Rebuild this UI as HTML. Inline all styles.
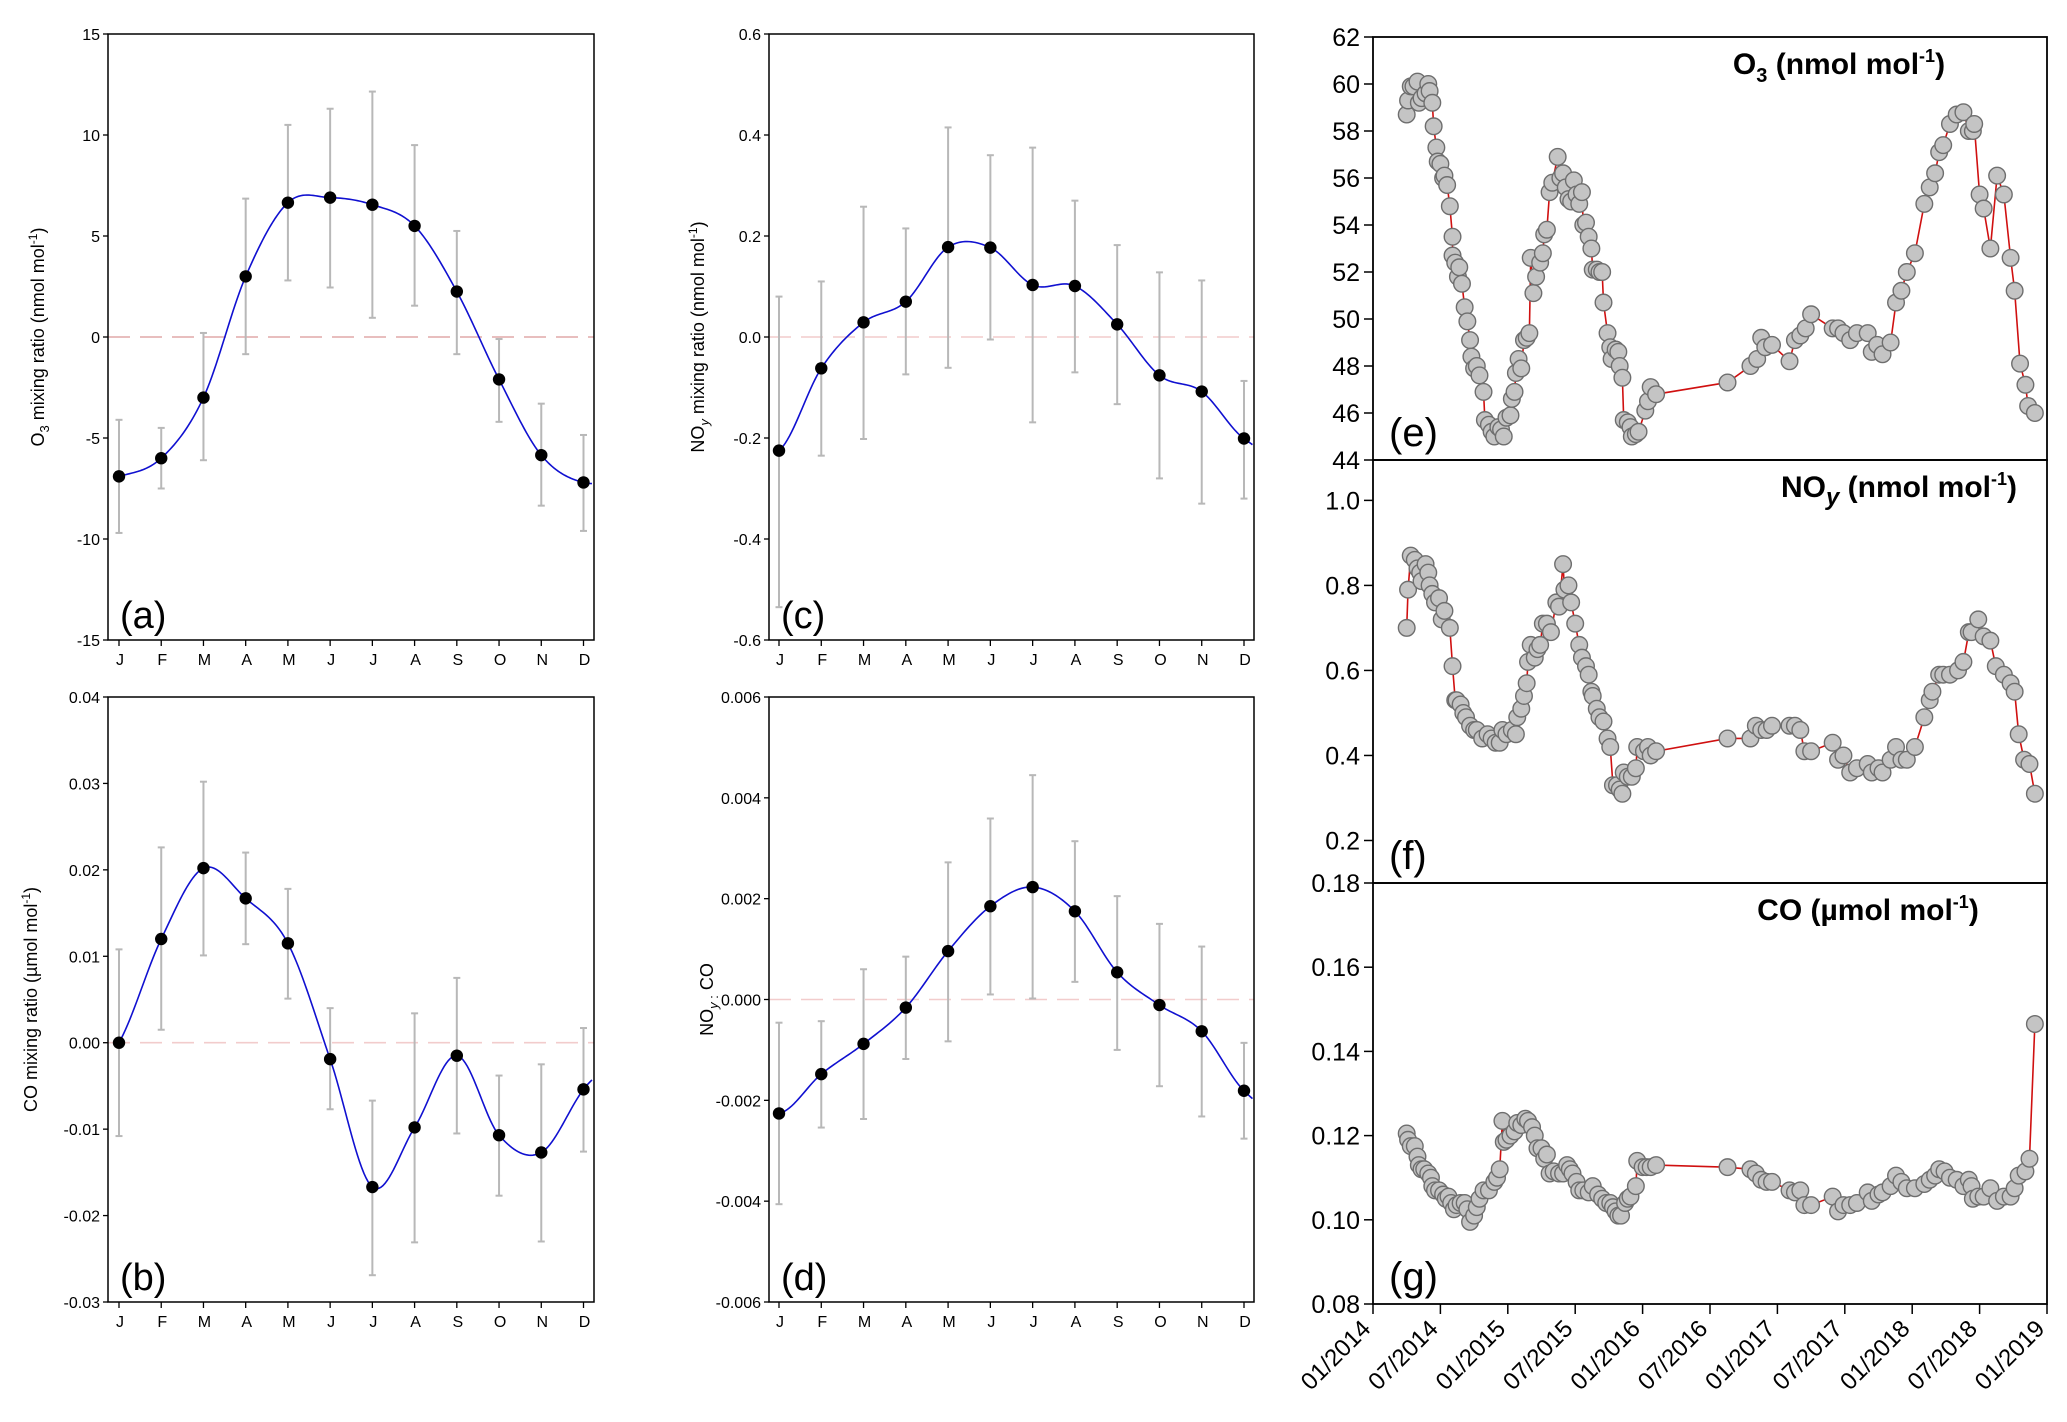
<!DOCTYPE html>
<html><head><meta charset="utf-8">
<style>
html,body{margin:0;padding:0;background:#fff;}
svg{display:block;font-family:"Liberation Sans",Arial,sans-serif;}
</style></head>
<body>
<svg id="fig" width="2067" height="1422" viewBox="0 0 2067 1422" xmlns="http://www.w3.org/2000/svg"></svg>
<script>
// ---------- monthly panel data ----------
const months = ["J","F","M","A","M","J","J","A","S","O","N","D"];
const o3Mean  = [-6.9,-6.0,-3.0,3.0,6.65,6.9,6.55,5.5,2.25,-2.1,-5.85,-7.2];
const o3Upper = [-4.1,-4.5,0.2,6.85,10.5,11.3,12.15,9.5,5.25,-0.1,-3.3,-4.85];
const o3Lower = [-9.7,-7.5,-6.1,-0.85,2.8,2.45,0.95,1.55,-0.85,-4.2,-8.35,-9.6];
const coMean  = [0,0.012,0.0202,0.0167,0.0115,-0.0019,-0.0167,-0.0098,-0.0015,-0.0107,-0.0127,-0.0054];
const coUpper = [0.0108,0.0226,0.0302,0.022,0.0178,0.004,-0.0067,0.0034,0.0075,-0.0038,-0.0025,0.0017];
const coLower = [-0.0108,0.0015,0.0101,0.0114,0.0051,-0.0077,-0.0269,-0.0231,-0.0105,-0.0177,-0.023,-0.0126];
const noyMean  = [-0.225,-0.062,0.029,0.07,0.178,0.177,0.103,0.101,0.025,-0.076,-0.108,-0.201];
const noyUpper = [0.08,0.11,0.258,0.215,0.415,0.36,0.375,0.27,0.182,0.128,0.112,-0.087];
const noyLower = [-0.535,-0.235,-0.202,-0.074,-0.061,-0.005,-0.169,-0.07,-0.133,-0.28,-0.33,-0.32];
const ratioMean  = [-0.00226,-0.00148,-0.00088,-0.00016,0.00096,0.00185,0.00223,0.00175,0.00054,-0.00011,-0.00063,-0.00181];
const ratioUpper = [-0.00046,-0.00043,0.0006,0.00085,0.00272,0.00359,0.00445,0.00314,0.00205,0.0015,0.00105,-0.00086];
const ratioLower = [-0.00406,-0.00254,-0.00237,-0.00118,-0.00083,0.0001,0.00002,0.00035,-0.001,-0.00172,-0.00232,-0.00276];
const ticksA = [-15,-10,-5,0,5,10,15];
const ticksB = ["-0.03","-0.02","-0.01","0.00","0.01","0.02","0.03","0.04"];
const ticksC = ["-0.6","-0.4","-0.2","0.0","0.2","0.4","0.6"];
const ticksD = ["-0.006","-0.004","-0.002","0.000","0.002","0.004","0.006"];

// ---------- time series data (decimal years) ----------
const o3Dates = [2014.25,2014.26,2014.28,2014.30,2014.33,2014.34,2014.36,2014.39,2014.41,2014.42,2014.44,2014.45,2014.47,2014.48,2014.50,2014.52,2014.53,2014.55,2014.57,2014.59,2014.59,2014.61,2014.63,2014.64,2014.66,2014.68,2014.70,2014.72,2014.73,2014.75,2014.77,2014.79,2014.82,2014.83,2014.86,2014.88,2014.90,2014.93,2014.95,2014.97,2014.99,2015.02,2015.03,2015.05,2015.06,2015.08,2015.10,2015.12,2015.14,2015.16,2015.17,2015.19,2015.21,2015.24,2015.26,2015.27,2015.29,2015.31,2015.33,2015.37,2015.39,2015.41,2015.43,2015.45,2015.47,2015.49,2015.51,2015.53,2015.55,2015.56,2015.58,2015.60,2015.62,2015.63,2015.66,2015.68,2015.70,2015.71,2015.74,2015.76,2015.77,2015.80,2015.82,2015.83,2015.85,2015.86,2015.89,2015.91,2015.92,2015.95,2015.97,2016.02,2016.04,2016.06,2016.10,2016.63,2016.80,2016.85,2016.88,2016.91,2016.96,2017.09,2017.13,2017.17,2017.21,2017.25,2017.41,2017.45,2017.49,2017.54,2017.59,2017.67,2017.70,2017.74,2017.78,2017.84,2017.88,2017.92,2017.96,2018.02,2018.09,2018.13,2018.17,2018.20,2018.23,2018.28,2018.33,2018.38,2018.42,2018.45,2018.46,2018.50,2018.53,2018.58,2018.63,2018.68,2018.73,2018.76,2018.80,2018.84,2018.86,2018.91];
const o3Values = [58.7,59.3,59.9,59.9,60.1,59.2,59.4,59.6,60.0,59.7,59.2,58.2,57.3,56.7,56.6,56.0,56.1,55.7,54.8,53.5,52.7,52.4,51.8,52.2,51.5,50.5,49.9,49.1,48.4,47.9,48.0,47.6,46.9,45.7,45.5,45.2,45.0,45.4,45.3,45.0,45.8,45.9,46.6,46.9,47.7,48.3,47.9,49.1,49.2,49.4,52.6,51.1,51.8,52.4,52.8,53.6,53.8,55.4,55.8,56.9,56.0,56.2,55.6,55.1,55.0,55.9,55.3,54.9,55.4,54.0,54.1,53.5,53.0,52.1,52.1,52.0,52.0,50.7,49.4,48.8,48.3,48.7,48.6,48.0,47.5,45.7,45.6,45.4,45.0,45.1,45.2,46.1,46.5,47.1,46.8,47.3,48.0,48.3,49.2,48.8,48.9,48.2,49.1,49.3,49.6,50.2,49.6,49.6,49.4,49.1,49.4,49.4,48.6,48.9,48.5,49.0,50.7,51.2,52.0,52.8,54.9,55.6,56.2,57.1,57.4,58.3,58.7,58.8,58.0,58.0,58.3,55.3,54.7,53.0,56.1,55.3,52.6,51.2,48.1,47.2,46.3,46.0];
const noyDates = [2014.25,2014.26,2014.28,2014.31,2014.33,2014.35,2014.36,2014.39,2014.41,2014.42,2014.44,2014.46,2014.49,2014.51,2014.53,2014.57,2014.59,2014.61,2014.62,2014.65,2014.67,2014.69,2014.72,2014.75,2014.77,2014.81,2014.85,2014.88,2014.91,2014.94,2014.96,2014.99,2015.03,2015.06,2015.07,2015.10,2015.12,2015.14,2015.15,2015.17,2015.20,2015.22,2015.24,2015.26,2015.29,2015.32,2015.36,2015.38,2015.41,2015.42,2015.45,2015.47,2015.50,2015.53,2015.55,2015.58,2015.60,2015.62,2015.63,2015.66,2015.68,2015.71,2015.74,2015.76,2015.78,2015.81,2015.83,2015.85,2015.86,2015.89,2015.92,2015.95,2015.96,2016.01,2016.04,2016.06,2016.10,2016.63,2016.80,2016.84,2016.88,2016.92,2016.96,2017.09,2017.13,2017.17,2017.20,2017.25,2017.41,2017.45,2017.49,2017.54,2017.59,2017.67,2017.70,2017.75,2017.78,2017.84,2017.88,2017.92,2017.96,2018.02,2018.09,2018.13,2018.15,2018.20,2018.23,2018.28,2018.34,2018.38,2018.42,2018.44,2018.49,2018.53,2018.58,2018.62,2018.68,2018.73,2018.76,2018.79,2018.83,2018.87,2018.91];
const noyValues = [0.70,0.79,0.87,0.86,0.84,0.83,0.81,0.85,0.83,0.80,0.78,0.76,0.77,0.72,0.74,0.70,0.61,0.53,0.53,0.52,0.50,0.49,0.47,0.46,0.46,0.44,0.45,0.44,0.43,0.43,0.46,0.45,0.46,0.45,0.49,0.51,0.54,0.57,0.62,0.66,0.63,0.65,0.66,0.71,0.71,0.69,0.76,0.75,0.85,0.79,0.80,0.76,0.71,0.66,0.63,0.61,0.59,0.55,0.54,0.51,0.49,0.48,0.44,0.42,0.33,0.33,0.32,0.31,0.36,0.35,0.35,0.37,0.42,0.41,0.42,0.40,0.41,0.44,0.44,0.47,0.46,0.46,0.47,0.47,0.47,0.46,0.41,0.41,0.43,0.39,0.40,0.36,0.37,0.38,0.36,0.37,0.36,0.39,0.42,0.39,0.39,0.42,0.49,0.53,0.55,0.59,0.59,0.59,0.60,0.62,0.69,0.69,0.72,0.68,0.67,0.61,0.59,0.57,0.55,0.45,0.39,0.38,0.31];
const coDates = [2014.25,2014.26,2014.28,2014.31,2014.33,2014.34,2014.36,2014.38,2014.41,2014.43,2014.44,2014.46,2014.49,2014.52,2014.54,2014.56,2014.58,2014.60,2014.62,2014.65,2014.68,2014.70,2014.72,2014.75,2014.77,2014.79,2014.82,2014.86,2014.90,2014.92,2014.94,2014.96,2014.97,2014.99,2015.02,2015.05,2015.07,2015.10,2015.13,2015.15,2015.18,2015.20,2015.22,2015.25,2015.27,2015.29,2015.31,2015.34,2015.38,2015.41,2015.44,2015.46,2015.48,2015.51,2015.53,2015.56,2015.60,2015.63,2015.67,2015.70,2015.73,2015.76,2015.78,2015.80,2015.82,2015.84,2015.87,2015.89,2015.91,2015.95,2015.96,2016.00,2016.03,2016.06,2016.10,2016.63,2016.80,2016.84,2016.88,2016.92,2016.96,2017.09,2017.13,2017.17,2017.20,2017.25,2017.41,2017.45,2017.49,2017.54,2017.59,2017.67,2017.70,2017.75,2017.78,2017.84,2017.88,2017.92,2017.96,2018.02,2018.09,2018.13,2018.17,2018.20,2018.24,2018.28,2018.33,2018.38,2018.42,2018.44,2018.45,2018.49,2018.53,2018.58,2018.63,2018.68,2018.73,2018.76,2018.79,2018.84,2018.87,2018.91];
const coValues = [0.1205,0.119,0.1175,0.1175,0.115,0.113,0.112,0.112,0.111,0.110,0.108,0.107,0.107,0.106,0.105,0.1055,0.104,0.1025,0.1035,0.104,0.104,0.1025,0.0995,0.101,0.103,0.105,0.107,0.107,0.109,0.110,0.112,0.1235,0.1185,0.119,0.120,0.121,0.123,0.1225,0.124,0.1235,0.122,0.120,0.117,0.117,0.1145,0.1155,0.111,0.1115,0.111,0.111,0.113,0.112,0.111,0.109,0.107,0.107,0.1065,0.108,0.106,0.105,0.104,0.104,0.103,0.102,0.101,0.101,0.104,0.105,0.1055,0.108,0.114,0.1125,0.1125,0.1125,0.113,0.1125,0.112,0.111,0.1095,0.109,0.109,0.107,0.1065,0.107,0.1035,0.1035,0.1055,0.102,0.1035,0.1035,0.104,0.1065,0.1045,0.106,0.1065,0.108,0.1105,0.109,0.1075,0.1075,0.1085,0.1095,0.1105,0.112,0.1115,0.110,0.1095,0.108,0.1095,0.108,0.105,0.1055,0.1055,0.1075,0.1045,0.1055,0.1055,0.1075,0.1105,0.1115,0.1145,0.1465];
const dateTickLabels = ["01/2014","07/2014","01/2015","07/2015","01/2016","07/2016","01/2017","07/2017","01/2018","07/2018","01/2019"];
const ticksE = [44,46,48,50,52,54,56,58,60,62];
const ticksF = ["0.2","0.4","0.6","0.8","1.0"];
const ticksG = ["0.08","0.10","0.12","0.14","0.16","0.18"];

const NS = "http://www.w3.org/2000/svg";
const svg = document.getElementById('fig');
function mk(tag, attrs, parent, text){
  const e = document.createElementNS(NS, tag);
  for (const k in attrs) e.setAttribute(k, attrs[k]);
  if (text !== undefined) e.textContent = text;
  (parent || svg).appendChild(e);
  return e;
}
function lin(d0,d1,r0,r1){ return v => r0 + (v-d0)*(r1-r0)/(d1-d0); }

// ---------- monthly panel ----------
function monthlyPanel(o){
  const g = mk('g', {});
  
  
  const L=o.x0, R=o.x1, T=o.y0, B=o.y1;
  const y = lin(o.ymin, o.ymax, B, T);
  const x = lin(0, 11, o.xJ, o.xD);
  const z = mk('line', {x1:L, x2:R, y1:y(0), y2:y(0), stroke:o.zeroColor, 'stroke-width':1.6, 'stroke-dasharray':'22,10'}, g);
  
  
  for (let i=0;i<12;i++){
    const eb = mk('g', {stroke:'#b8b8b8', 'stroke-width':2}, g);
    
    
    const xi = x(i);
    mk('line', {x1:xi, x2:xi, y1:y(o.upper[i]), y2:y(o.lower[i])}, eb);
    mk('line', {x1:xi-3.5, x2:xi+3.5, y1:y(o.upper[i]), y2:y(o.upper[i])}, eb);
    mk('line', {x1:xi-3.5, x2:xi+3.5, y1:y(o.lower[i]), y2:y(o.lower[i])}, eb);
  }
  const m = o.mean, n = m.length;
  const P = k => m[((k%n)+n)%n];
  let d = '';
  for (let i=0;i<n;i++){
    const p0=P(i-1), p1=P(i), p2=P(i+1), p3=P(i+2);
    for (let s=0;s<=20;s++){
      const t=s/20, t2=t*t, t3=t2*t;
      const v = 0.5*((2*p1)+(-p0+p2)*t+(2*p0-5*p1+4*p2-p3)*t2+(-p0+3*p1-3*p2+p3)*t3);
      const xx = x(i+t);
      if (xx > R) break;
      d += (d ? 'L' : 'M') + xx.toFixed(2) + ',' + y(v).toFixed(2);
    }
  }
  const c = mk('path', {d:d, fill:'none', stroke:'#1010d0', 'stroke-width':1.6}, g);
  
  
  for (let i=0;i<12;i++){
    const pt = mk('circle', {cx:x(i), cy:y(m[i]), r:6.2, fill:'#000'}, g);
    
    
  }
  const fr = mk('rect', {x:L, y:T, width:R-L, height:B-T, fill:'none', stroke:'#000', 'stroke-width':1.5}, g);
  
  
  o.ticks.forEach(t => {
    const v = parseFloat(t), yy = y(v);
    mk('line', {x1:L-5, x2:L, y1:yy, y2:yy, stroke:'#000', 'stroke-width':1.3}, g);
    const tl = mk('text', {x:L-8, y:yy+6, 'font-size':16, 'text-anchor':'end'}, g, String(t));
    
    
  });
  months.forEach((mo,i) => {
    const xi = x(i);
    mk('line', {x1:xi, x2:xi, y1:B, y2:B+6, stroke:'#000', 'stroke-width':1.3}, g);
    const tl = mk('text', {x:xi+1, y:B+25, 'font-size':16, 'text-anchor':'middle'}, g, mo);
    
    
  });
  const yt = mk('text', {transform:`translate(${o.titleX},${(T+B)/2}) rotate(-90)`, 'font-size':18, 'text-anchor':'middle'}, g);
  
  
  yt.innerHTML = o.title;
  const pl = mk('text', {x:L+12, y:B-12, 'font-size':38}, g, o.label);
  
  
}

monthlyPanel({name:'panel-a-o3-monthly', x0:108, x1:594, y0:34, y1:640, xJ:119, xD:583.5, ymin:-15, ymax:15,
  mean:o3Mean, upper:o3Upper, lower:o3Lower, ticks:ticksA, zeroColor:'#e0a8a8', titleX:44, label:'(a)',
  title:'O<tspan font-size="13" dy="5">3</tspan><tspan dy="-5"> mixing ratio (nmol mol</tspan><tspan font-size="12" dy="-7">-1</tspan><tspan dy="7">)</tspan>'});
monthlyPanel({name:'panel-b-co-monthly', x0:108, x1:594, y0:697, y1:1302, xJ:119, xD:583.5, ymin:-0.03, ymax:0.04,
  mean:coMean, upper:coUpper, lower:coLower, ticks:ticksB, zeroColor:'#f2cccc', titleX:37, label:'(b)',
  title:'CO mixing ratio (µmol mol<tspan font-size="12" dy="-7">-1</tspan><tspan dy="7">)</tspan>'});
monthlyPanel({name:'panel-c-noy-monthly', x0:769, x1:1254, y0:34, y1:640, xJ:779, xD:1244, ymin:-0.6, ymax:0.6,
  mean:noyMean, upper:noyUpper, lower:noyLower, ticks:ticksC, zeroColor:'#f2cccc', titleX:704, label:'(c)',
  title:'NO<tspan font-size="13" dy="5" font-style="italic">y</tspan><tspan dy="-5"> mixing ratio (nmol mol</tspan><tspan font-size="12" dy="-7">-1</tspan><tspan dy="7">)</tspan>'});
monthlyPanel({name:'panel-d-ratio-monthly', x0:769, x1:1254, y0:697, y1:1302, xJ:779, xD:1244, ymin:-0.006, ymax:0.006,
  mean:ratioMean, upper:ratioUpper, lower:ratioLower, ticks:ticksD, zeroColor:'#f2cccc', titleX:713, label:'(d)',
  title:'NO<tspan font-size="13" dy="5" font-style="italic">y</tspan><tspan font-size="13"> :</tspan><tspan dy="-5"> CO</tspan>'});

// ---------- time series panels ----------
const RL = 1373, RR = 2047;
const xd = lin(2014, 2019, RL, RR);
function tsPanel(o){
  const g = mk('g', {});
  
  
  const y = lin(o.ymin, o.ymax, o.y1, o.y0);
  let d = '';
  o.dates.forEach((t,i) => { d += (i ? 'L' : 'M') + xd(t).toFixed(2) + ',' + y(o.values[i]).toFixed(2); });
  const ln = mk('path', {d:d, fill:'none', stroke:'#d01010', 'stroke-width':1.6}, g);
  
  
  o.dates.forEach((t,i) => {
    const c = mk('circle', {cx:xd(t), cy:y(o.values[i]), r:8.3, fill:'#c4c4c4', stroke:'#6e6e6e', 'stroke-width':1.4}, g);
    
    
  });
  const fr = mk('rect', {x:RL, y:o.y0, width:RR-RL, height:o.y1-o.y0, fill:'none', stroke:'#000', 'stroke-width':1.8}, g);
  
  
  o.ticks.forEach(t => {
    const yy = y(parseFloat(t));
    mk('line', {x1:RL-9, x2:RL, y1:yy, y2:yy, stroke:'#000', 'stroke-width':1.5}, g);
    const tl = mk('text', {x:RL-13, y:yy+9, 'font-size':25, 'text-anchor':'end'}, g, String(t));
    
    
  });
  const tt = mk('text', {x:o.titleX, y:o.y0+37, 'font-size':30, 'font-weight':'bold', 'text-anchor':'middle'}, g);
  
  
  tt.innerHTML = o.title;
  const pl = mk('text', {x:RL+16, y:o.y1-14, 'font-size':40}, g, o.label);
  
  
}
tsPanel({name:'panel-e-o3-series', y0:37, y1:460, ymin:44, ymax:62, dates:o3Dates, values:o3Values, ticks:ticksE, label:'(e)', titleX:1839,
  title:'O<tspan font-size="20" dy="8">3</tspan><tspan dy="-8"> (nmol mol</tspan><tspan font-size="18" dy="-12">-1</tspan><tspan dy="12">)</tspan>'});
tsPanel({name:'panel-f-noy-series', y0:460, y1:883, ymin:0.1, ymax:1.095, dates:noyDates, values:noyValues, ticks:ticksF, label:'(f)', titleX:1899,
  title:'NO<tspan font-size="24" dy="8" font-style="italic">y</tspan><tspan dy="-8"> (nmol mol</tspan><tspan font-size="18" dy="-12">-1</tspan><tspan dy="12">)</tspan>'});
tsPanel({name:'panel-g-co-series', y0:883, y1:1304, ymin:0.08, ymax:0.18, dates:coDates, values:coValues, ticks:ticksG, label:'(g)', titleX:1868,
  title:'CO (µmol mol<tspan font-size="18" dy="-12">-1</tspan><tspan dy="12">)</tspan>'});

dateTickLabels.forEach((lab,i) => {
  const xx = xd(2014 + i*0.5);
  mk('line', {x1:xx, x2:xx, y1:1304, y2:1314, stroke:'#000', 'stroke-width':1.5});
  const t = mk('text', {transform:`translate(${xx-1},${1330}) rotate(-45)`, 'font-size':24, 'text-anchor':'end'}, svg, lab);
  
  
});
</script>
</body></html>
